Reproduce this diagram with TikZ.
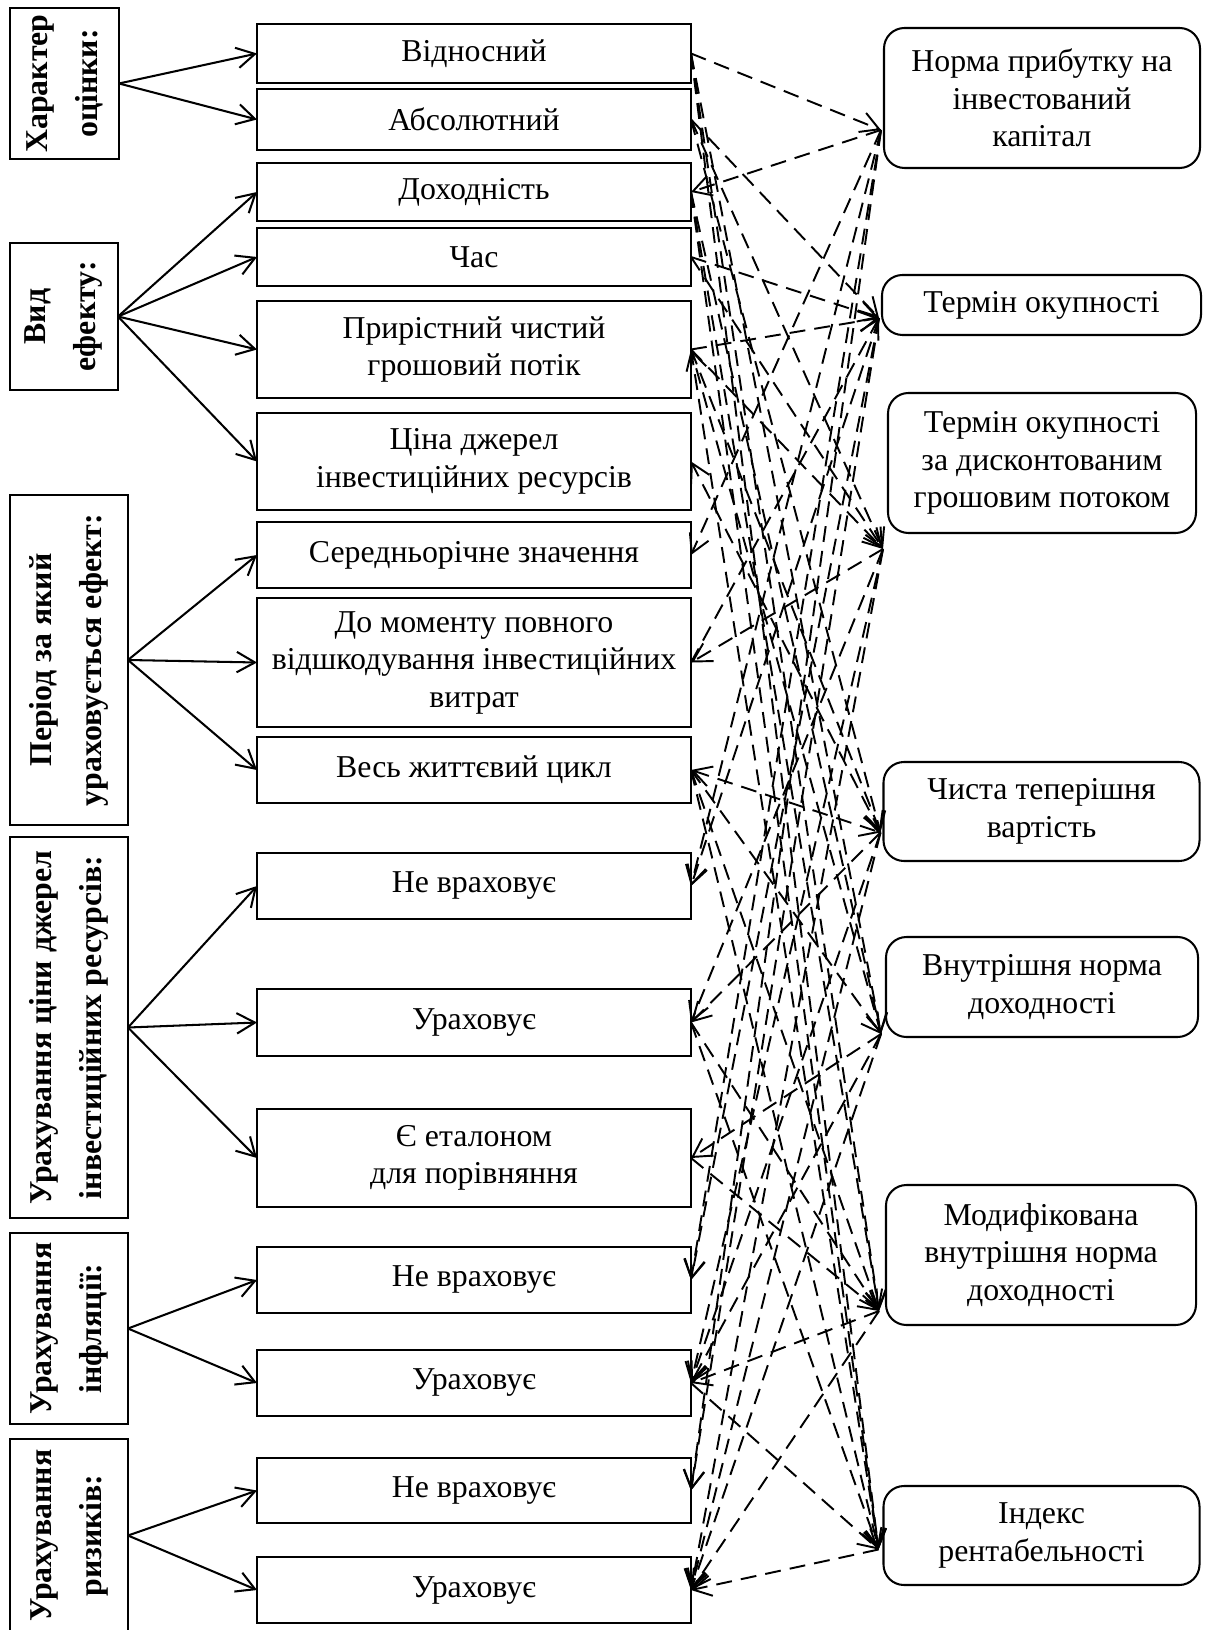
\documentclass[tikz,border=0pt]{standalone}
\usepackage{fontspec}
\setmainfont{Liberation Serif}
\usetikzlibrary{arrows.meta, calc}
\def\upx{0.44pt}

\begin{document}
\begin{tikzpicture}[
    x=0.44pt, y=-0.44pt,
    >={Straight Barb[length=8pt,width=9pt]},
    every node/.style={font=\fontsize{14pt}{16.5pt}\selectfont, inner sep=0pt, outer sep=0pt, align=center},
    crit/.style={draw, line width=0.9pt, rotate=90, font=\fontsize{14pt}{22pt}\selectfont\bfseries, minimum height=118*\upx},
    item/.style={draw, line width=0.9pt, minimum width=434*\upx},
    method/.style={draw, line width=0.9pt, rounded corners=9pt, minimum width=316*\upx},
    arrow/.style={line width=0.9pt, ->},
    dline/.style={line width=0.85pt, dash pattern=on 7pt off 4pt, ->}
]
\useasboundingbox (0,0) rectangle (1220,1630);

% Criteria (left column)
\node[crit, minimum width=151*\upx, minimum height=109*\upx] (har) at (64.5,83.5) {Характер\\оцінки:};
\node[crit, minimum width=147*\upx, minimum height=108*\upx] (vef) at (64,316.5) {Вид\\ефекту:};
\node[crit, minimum width=330*\upx] (per) at (69,660) {Період за який\\ураховується ефект:};
\node[crit, minimum width=381*\upx] (uci) at (69,1027.5) {Урахування ціни джерел\\інвестиційних ресурсів:};
\node[crit, minimum width=191*\upx] (uinfl) at (69,1328.5) {Урахування\\інфляції:};
\node[crit, minimum width=193*\upx] (uriz) at (69,1535.5) {Урахування\\ризиків:};

% Characteristics (middle column)
\node[item, minimum height=59*\upx] (vid) at (474,53.5) {Відносний};
\node[item, minimum height=61*\upx] (abs) at (474,119.5) {Абсолютний};
\node[item, minimum height=58*\upx] (doh) at (474,192) {Доходність};
\node[item, minimum height=58*\upx] (chas) at (474,257) {Час};
\node[item, minimum height=97*\upx] (pchp) at (474,349.5) {Прирістний чистий\\грошовий потік};
\node[item, minimum height=97*\upx] (cina) at (474,461.5) {Ціна джерел\\інвестиційних ресурсів};
\node[item, minimum height=66*\upx] (ser) at (474,555) {Середньорічне значення};
\node[item, minimum height=129*\upx] (mom) at (474,662.5) {До моменту повного\\відшкодування інвестиційних\\витрат};
\node[item, minimum height=66*\upx] (ves) at (474,770) {Весь життєвий цикл};
\node[item, minimum height=66*\upx] (ncina) at (474,886) {Не враховує};
\node[item, minimum height=67*\upx] (ucina) at (474,1022.5) {Ураховує};
\node[item, minimum height=98*\upx] (etal) at (474,1158) {Є еталоном\\для порівняння};
\node[item, minimum height=66*\upx] (ninf) at (474,1280) {Не враховує};
\node[item, minimum height=66*\upx] (uinf) at (474,1383) {Ураховує};
\node[item, minimum height=65*\upx] (nriz) at (474,1490.5) {Не враховує};
\node[item, minimum height=66*\upx] (urz) at (474,1590) {Ураховує};

% Methods (right column)
\node[method, minimum height=140*\upx] (arr) at (1042,98) {Норма прибутку на\\інвестований\\капітал};
\node[method, minimum height=60*\upx, minimum width=319*\upx] (pp) at (1041.5,305) {Термін окупності};
\node[method, minimum height=140*\upx, minimum width=308*\upx] (dpp) at (1042,463) {Термін окупності\\за дисконтованим\\грошовим потоком};
\node[method, minimum height=99*\upx] (npv) at (1041.5,811.5) {Чиста теперішня\\вартість};
\node[method, minimum height=100*\upx, minimum width=312*\upx] (irr) at (1042,987) {Внутрішня норма\\доходності};
\node[method, minimum height=140*\upx, minimum width=310*\upx] (mirr) at (1041,1255) {Модифікована\\внутрішня норма\\доходності};
\node[method, minimum height=99*\upx] (pi) at (1041.5,1535.5) {Індекс\\рентабельності};

\coordinate (arrIn) at ($(arr.west)+(-3,32)$);
\coordinate (ppIn) at ($(pp.west)+(-3,13)$);
\coordinate (dppIn) at ($(dpp.south west)+(-5,16)$);
\coordinate (npvIn) at ($(npv.west)+(-3,21)$);
\coordinate (irrIn) at ($(irr.south west)+(-5,-3)$);
\coordinate (mirrIn) at ($(mirr.south west)+(-7,-14)$);
\coordinate (piIn) at ($(pi.west)+(-5,14)$);

% Criteria -> characteristics
\foreach \t in {vid,abs} \draw[arrow] (har.south) -- (\t.west);
\foreach \t in {doh,chas,pchp,cina} \draw[arrow] (vef.south) -- (\t.west);
\foreach \t in {ser,mom,ves} \draw[arrow] (per.south) -- (\t.west);
\foreach \t in {ncina,ucina,etal} \draw[arrow] (uci.south) -- (\t.west);
\foreach \t in {ninf,uinf} \draw[arrow] (uinfl.south) -- (\t.west);
\foreach \t in {nriz,urz} \draw[arrow] (uriz.south) -- (\t.west);

% Норма прибутку
\draw[dline] (vid.east) -- (arrIn);
\foreach \m in {doh,ser,ncina,ninf,nriz} \draw[dline] (arrIn) -- (\m.east);
% Термін окупності
\foreach \m in {abs,chas,pchp,mom} \draw[dline] (\m.east) -- (ppIn);
\foreach \m in {ncina,ninf,nriz} \draw[dline] (ppIn) -- (\m.east);
% Дисконтований термін окупності
\foreach \m in {abs,chas,pchp} \draw[dline] (\m.east) -- (dppIn);
\foreach \m in {mom,ucina,uinf,urz} \draw[dline] (dppIn) -- (\m.east);
% Чиста теперішня вартість
\foreach \m in {abs,pchp} \draw[dline] (\m.east) -- (npvIn);
\draw[dline, <->] (ves.east) -- (npvIn);
\foreach \m in {cina,ucina,uinf,urz} \draw[dline] (npvIn) -- (\m.east);
% Внутрішня норма доходності
\foreach \m in {vid,doh,ves} \draw[dline] (\m.east) -- (irrIn);
\foreach \m in {pchp,etal,uinf,urz} \draw[dline] (irrIn) -- (\m.east);
% Модифікована внутрішня норма доходності
\foreach \m in {vid,doh,ves,ucina,etal} \draw[dline] (\m.east) -- (mirrIn);
\foreach \m in {uinf,urz} \draw[dline] (mirrIn) -- (\m.east);
% Індекс рентабельності
\foreach \m in {vid,doh,pchp,ves,ucina,uinf} \draw[dline] (\m.east) -- (piIn);
\draw[dline] (piIn) -- (urz.east);

\end{tikzpicture}
\end{document}
